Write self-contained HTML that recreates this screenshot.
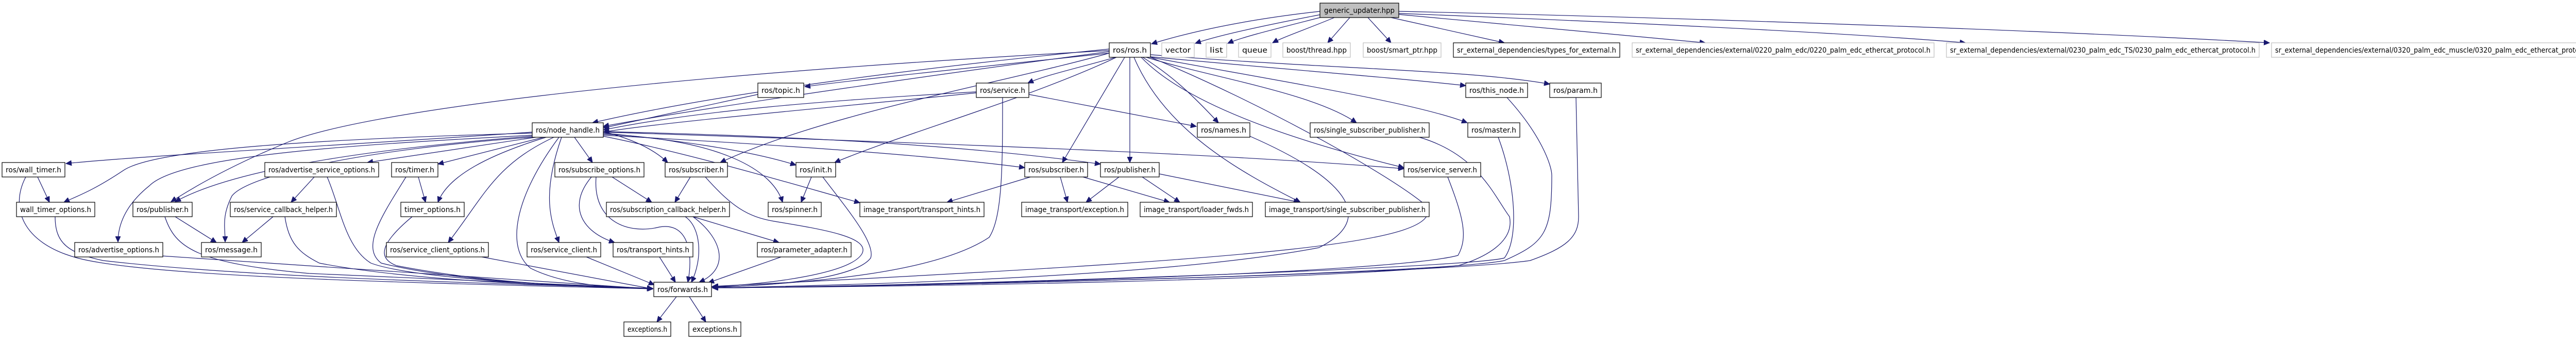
<!DOCTYPE html>
<html><head><meta charset="utf-8"><style>
html,body{margin:0;padding:0;background:#fff;}
svg{display:block;}
text{font-family:"DejaVu Sans","Liberation Sans",sans-serif;font-size:14px;fill:#000;}
.e{fill:none;stroke:#191970;stroke-width:1.2;}
.n{fill:#fff;stroke:#000;stroke-width:1.2;}
.g{fill:#fff;stroke:#bfbfbf;stroke-width:1.2;}
</style></head><body>
<svg width="5059" height="659" viewBox="0 0 5059 659" xmlns="http://www.w3.org/2000/svg">
<defs><marker id="a" markerUnits="userSpaceOnUse" markerWidth="12" markerHeight="10" refX="11" refY="5" orient="auto"><path d="M0,0 L11,5 L0,10 z" fill="#191970" stroke="#191970"/></marker></defs>
<g marker-end="url(#a)">
<path class="e" d="M2562,22 C2400,40 2300,65 2235,85"/>
<path class="e" d="M2565,28 C2450,50 2360,70 2320,84"/>
<path class="e" d="M2570,32 C2480,55 2410,72 2383,84"/>
<path class="e" d="M2590,34 C2540,55 2490,72 2470,83"/>
<path class="e" d="M2620,34 L2577,83"/>
<path class="e" d="M2655,34 L2700,83"/>
<path class="e" d="M2700,34 L2920,83"/>
<path class="e" d="M2715,28 L3310,83"/>
<path class="e" d="M2715,26 C3200,45 3600,65 3815,83"/>
<path class="e" d="M2715,22 C3300,35 4000,60 4405,83"/>
<path class="e" d="M2153,95 C1800,130 1400,180 1150,238"/>
<path class="e" d="M2153,100 C1700,160 1300,220 1171,245"/>
<path class="e" d="M2153,103 C1900,130 1700,150 1562,168"/>
<path class="e" d="M2165,111 C2100,130 2030,145 1995,161"/>
<path class="e" d="M2218,111 C2280,150 2320,190 2365,238"/>
<path class="e" d="M2153,103 C1950,160 1600,220 1398,315"/>
<path class="e" d="M2167,111 C2000,190 1750,260 1620,315"/>
<path class="e" d="M2183,111 L2062,315"/>
<path class="e" d="M2193,111 L2193,315"/>
<path class="e" d="M2201,111 C2260,250 2400,330 2524,392"/>
<path class="e" d="M2233,110 C2500,135 2700,150 2845,166"/>
<path class="e" d="M2233,106 C2600,135 2850,135 3008,163"/>
<path class="e" d="M2225,111 C2350,150 2550,180 2633,238"/>
<path class="e" d="M2233,111 C2500,160 2750,200 2848,238"/>
<path class="e" d="M2215,111 C2300,200 2500,270 2725,325"/>
<path class="e" d="M2153,98 C1200,150 700,220 560,275 C450,320 380,360 332,391"/>
<path class="e" d="M2233,111 C2450,200 2700,340 2770,400 C2800,470 2500,500 1383,555"/>
<path class="e" d="M1471,183 C1350,210 1250,230 1171,248"/>
<path class="e" d="M1895,178 C1600,195 1350,215 1171,252"/>
<path class="e" d="M1895,180 C1600,210 1300,235 1171,256"/>
<path class="e" d="M1997,183 L2322,245"/>
<path class="e" d="M1946,189 C1946,320 1946,420 1920,460 C1800,540 1500,550 1383,558"/>
<path class="e" d="M1033,256 C700,280 300,300 128,317"/>
<path class="e" d="M1033,258 C600,270 300,290 240,330 C180,370 150,380 124,392"/>
<path class="e" d="M1033,262 C700,280 350,300 290,360 C240,400 229,440 229,469"/>
<path class="e" d="M1033,264 C700,290 450,330 340,391"/>
<path class="e" d="M1033,266 C700,290 480,340 450,380 C430,420 437,440 437,469"/>
<path class="e" d="M1040,266 L713,315"/>
<path class="e" d="M1055,266 L850,318"/>
<path class="e" d="M1060,266 C950,300 870,340 850,392"/>
<path class="e" d="M1075,266 C960,320 940,380 870,470"/>
<path class="e" d="M1090,266 C1050,380 1070,430 1085,470"/>
<path class="e" d="M1115,266 L1150,315"/>
<path class="e" d="M1085,266 C1000,380 980,480 1030,520 C1100,555 1200,558 1267,560"/>
<path class="e" d="M1171,255 C1230,270 1270,290 1296,315"/>
<path class="e" d="M1171,258 C1300,270 1450,290 1545,320"/>
<path class="e" d="M1171,260 C1400,270 1500,330 1519,392"/>
<path class="e" d="M1171,264 C1350,300 1550,360 1669,393"/>
<path class="e" d="M1171,262 C1500,280 1800,300 1989,325"/>
<path class="e" d="M1171,255 C1600,265 1900,285 2136,318"/>
<path class="e" d="M1171,256 C1900,280 2400,300 2725,327"/>
<path class="e" d="M73,343 L96,392"/>
<path class="e" d="M50,343 C20,400 40,470 150,500 C300,540 900,550 1267,560"/>
<path class="e" d="M107,420 C107,470 130,490 200,505 C500,540 1000,550 1267,559"/>
<path class="e" d="M314,496 L1267,560"/>
<path class="e" d="M340,420 L420,470"/>
<path class="e" d="M320,420 C340,480 380,510 600,530 L1267,559"/>
<path class="e" d="M610,343 L565,392"/>
<path class="e" d="M635,343 C660,400 670,480 720,510 C800,540 1100,555 1267,559"/>
<path class="e" d="M530,420 L470,470"/>
<path class="e" d="M553,420 C560,470 580,490 620,510 C800,545 1100,555 1267,559"/>
<path class="e" d="M812,343 L826,392"/>
<path class="e" d="M788,343 C740,420 700,480 740,510 C900,550 1150,555 1267,559"/>
<path class="e" d="M800,420 C740,470 730,500 770,515 C950,550 1150,557 1267,559"/>
<path class="e" d="M935,498 L1267,560"/>
<path class="e" d="M1138,498 L1270,552"/>
<path class="e" d="M1188,343 L1265,392"/>
<path class="e" d="M1148,343 C1100,400 1130,450 1193,470"/>
<path class="e" d="M1157,343 C1150,430 1220,455 1280,440 C1340,430 1345,500 1335,547"/>
<path class="e" d="M1280,498 L1311,547"/>
<path class="e" d="M1340,343 L1310,392"/>
<path class="e" d="M1369,343 C1420,400 1450,420 1503,429 C1600,445 1690,460 1673,492 C1650,530 1500,550 1381,556"/>
<path class="e" d="M1575,343 L1555,392"/>
<path class="e" d="M1597,343 C1640,400 1700,470 1690,500 C1660,540 1500,555 1383,556"/>
<path class="e" d="M1345,420 L1512,470"/>
<path class="e" d="M1345,420 C1400,460 1420,520 1357,547"/>
<path class="e" d="M1330,420 C1360,440 1365,500 1342,547"/>
<path class="e" d="M1516,498 L1375,548"/>
<path class="e" d="M2000,343 L1838,392"/>
<path class="e" d="M2058,343 L2072,392"/>
<path class="e" d="M2102,343 L2270,392"/>
<path class="e" d="M2172,343 L2108,392"/>
<path class="e" d="M2217,343 L2290,392"/>
<path class="e" d="M2250,337 L2522,392"/>
<path class="e" d="M2426,264 C2600,340 2680,420 2560,480 C2300,530 1800,550 1383,558"/>
<path class="e" d="M2755,266 C2870,300 2900,380 2930,420 C2940,470 2880,500 2830,515 C2500,545 1800,555 1383,558"/>
<path class="e" d="M2908,266 C2940,350 2950,460 2920,500 C2850,520 1800,555 1383,558"/>
<path class="e" d="M2810,343 C2840,420 2850,460 2830,495 C2700,530 1800,555 1383,558"/>
<path class="e" d="M2925,189 C2990,260 3012,320 3012,340 C3012,450 3000,470 2920,505 C2800,530 1800,555 1383,558"/>
<path class="e" d="M3059,189 L3064,420 C3064,460 3040,480 2970,505 C2800,530 1800,555 1383,558"/>
<path class="e" d="M1313,575 L1275,624"/>
<path class="e" d="M1338,575 L1370,624"/>
</g>
<g>
<rect x="2562" y="6" width="153" height="28" fill="#bfbfbf" stroke="#000" stroke-width="1.2"/><text x="2638.5" y="25" text-anchor="middle" textLength="137" lengthAdjust="spacingAndGlyphs">generic_updater.hpp</text>
<rect class="n" x="2153" y="83" width="80" height="28"/><text x="2193" y="102" text-anchor="middle" textLength="66" lengthAdjust="spacingAndGlyphs">ros/ros.h</text>
<rect class="g" x="2255" y="83" width="63" height="28"/><text x="2286.5" y="102" text-anchor="middle" textLength="49" lengthAdjust="spacingAndGlyphs">vector</text>
<rect class="g" x="2341" y="83" width="40" height="28"/><text x="2361" y="102" text-anchor="middle" textLength="26" lengthAdjust="spacingAndGlyphs">list</text>
<rect class="g" x="2404" y="83" width="63" height="28"/><text x="2435.5" y="102" text-anchor="middle" textLength="49" lengthAdjust="spacingAndGlyphs">queue</text>
<rect class="g" x="2490" y="83" width="131" height="28"/><text x="2555.5" y="102" text-anchor="middle" textLength="117" lengthAdjust="spacingAndGlyphs">boost/thread.hpp</text>
<rect class="g" x="2646" y="83" width="151" height="28"/><text x="2721.5" y="102" text-anchor="middle" textLength="137" lengthAdjust="spacingAndGlyphs">boost/smart_ptr.hpp</text>
<rect class="n" x="2821" y="83" width="323" height="28"/><text x="2982.5" y="102" text-anchor="middle" textLength="309" lengthAdjust="spacingAndGlyphs">sr_external_dependencies/types_for_external.h</text>
<rect class="g" x="3168" y="83" width="586" height="28"/><text x="3461" y="102" text-anchor="middle" textLength="572" lengthAdjust="spacingAndGlyphs">sr_external_dependencies/external/0220_palm_edc/0220_palm_edc_ethercat_protocol.h</text>
<rect class="g" x="3778" y="83" width="607" height="28"/><text x="4081.5" y="102" text-anchor="middle" textLength="593" lengthAdjust="spacingAndGlyphs">sr_external_dependencies/external/0230_palm_edc_TS/0230_palm_edc_ethercat_protocol.h</text>
<rect class="g" x="4409" y="83" width="635" height="28"/><text x="4726.5" y="102" text-anchor="middle" textLength="621" lengthAdjust="spacingAndGlyphs">sr_external_dependencies/external/0320_palm_edc_muscle/0320_palm_edc_ethercat_protocol.h</text>
<rect class="n" x="1471" y="161" width="89" height="28"/><text x="1515.5" y="180" text-anchor="middle" textLength="75" lengthAdjust="spacingAndGlyphs">ros/topic.h</text>
<rect class="n" x="1895" y="161" width="102" height="28"/><text x="1946" y="180" text-anchor="middle" textLength="88" lengthAdjust="spacingAndGlyphs">ros/service.h</text>
<rect class="n" x="2845" y="161" width="120" height="28"/><text x="2905" y="180" text-anchor="middle" textLength="106" lengthAdjust="spacingAndGlyphs">ros/this_node.h</text>
<rect class="n" x="3008" y="161" width="100" height="28"/><text x="3058" y="180" text-anchor="middle" textLength="86" lengthAdjust="spacingAndGlyphs">ros/param.h</text>
<rect class="n" x="1033" y="238" width="138" height="28"/><text x="1102" y="257" text-anchor="middle" textLength="124" lengthAdjust="spacingAndGlyphs">ros/node_handle.h</text>
<rect class="n" x="2324" y="238" width="102" height="28"/><text x="2375" y="257" text-anchor="middle" textLength="88" lengthAdjust="spacingAndGlyphs">ros/names.h</text>
<rect class="n" x="2543" y="238" width="231" height="28"/><text x="2658.5" y="257" text-anchor="middle" textLength="217" lengthAdjust="spacingAndGlyphs">ros/single_subscriber_publisher.h</text>
<rect class="n" x="2849" y="238" width="101" height="28"/><text x="2899.5" y="257" text-anchor="middle" textLength="87" lengthAdjust="spacingAndGlyphs">ros/master.h</text>
<rect class="n" x="4" y="315" width="122" height="28"/><text x="65" y="334" text-anchor="middle" textLength="108" lengthAdjust="spacingAndGlyphs">ros/wall_timer.h</text>
<rect class="n" x="514" y="315" width="221" height="28"/><text x="624.5" y="334" text-anchor="middle" textLength="207" lengthAdjust="spacingAndGlyphs">ros/advertise_service_options.h</text>
<rect class="n" x="760" y="315" width="90" height="28"/><text x="805" y="334" text-anchor="middle" textLength="76" lengthAdjust="spacingAndGlyphs">ros/timer.h</text>
<rect class="n" x="1077" y="315" width="173" height="28"/><text x="1163.5" y="334" text-anchor="middle" textLength="159" lengthAdjust="spacingAndGlyphs">ros/subscribe_options.h</text>
<rect class="n" x="1291" y="315" width="121" height="28"/><text x="1351.5" y="334" text-anchor="middle" textLength="107" lengthAdjust="spacingAndGlyphs">ros/subscriber.h</text>
<rect class="n" x="1545" y="315" width="77" height="28"/><text x="1583.5" y="334" text-anchor="middle" textLength="63" lengthAdjust="spacingAndGlyphs">ros/init.h</text>
<rect class="n" x="1989" y="315" width="122" height="28"/><text x="2050" y="334" text-anchor="middle" textLength="108" lengthAdjust="spacingAndGlyphs">ros/subscriber.h</text>
<rect class="n" x="2136" y="315" width="114" height="28"/><text x="2193" y="334" text-anchor="middle" textLength="100" lengthAdjust="spacingAndGlyphs">ros/publisher.h</text>
<rect class="n" x="2725" y="315" width="149" height="28"/><text x="2799.5" y="334" text-anchor="middle" textLength="135" lengthAdjust="spacingAndGlyphs">ros/service_server.h</text>
<rect class="n" x="32" y="392" width="152" height="28"/><text x="108" y="411" text-anchor="middle" textLength="138" lengthAdjust="spacingAndGlyphs">wall_timer_options.h</text>
<rect class="n" x="258" y="392" width="115" height="28"/><text x="315.5" y="411" text-anchor="middle" textLength="101" lengthAdjust="spacingAndGlyphs">ros/publisher.h</text>
<rect class="n" x="447" y="392" width="206" height="28"/><text x="550" y="411" text-anchor="middle" textLength="192" lengthAdjust="spacingAndGlyphs">ros/service_callback_helper.h</text>
<rect class="n" x="778" y="392" width="123" height="28"/><text x="839.5" y="411" text-anchor="middle" textLength="109" lengthAdjust="spacingAndGlyphs">timer_options.h</text>
<rect class="n" x="1177" y="392" width="239" height="28"/><text x="1296.5" y="411" text-anchor="middle" textLength="225" lengthAdjust="spacingAndGlyphs">ros/subscription_callback_helper.h</text>
<rect class="n" x="1491" y="392" width="103" height="28"/><text x="1542.5" y="411" text-anchor="middle" textLength="89" lengthAdjust="spacingAndGlyphs">ros/spinner.h</text>
<rect class="n" x="1669" y="392" width="241" height="28"/><text x="1789.5" y="411" text-anchor="middle" textLength="227" lengthAdjust="spacingAndGlyphs">image_transport/transport_hints.h</text>
<rect class="n" x="1983" y="392" width="206" height="28"/><text x="2086" y="411" text-anchor="middle" textLength="192" lengthAdjust="spacingAndGlyphs">image_transport/exception.h</text>
<rect class="n" x="2213" y="392" width="218" height="28"/><text x="2322" y="411" text-anchor="middle" textLength="204" lengthAdjust="spacingAndGlyphs">image_transport/loader_fwds.h</text>
<rect class="n" x="2456" y="392" width="318" height="28"/><text x="2615" y="411" text-anchor="middle" textLength="304" lengthAdjust="spacingAndGlyphs">image_transport/single_subscriber_publisher.h</text>
<rect class="n" x="145" y="470" width="171" height="28"/><text x="230.5" y="489" text-anchor="middle" textLength="157" lengthAdjust="spacingAndGlyphs">ros/advertise_options.h</text>
<rect class="n" x="391" y="470" width="116" height="28"/><text x="449" y="489" text-anchor="middle" textLength="102" lengthAdjust="spacingAndGlyphs">ros/message.h</text>
<rect class="n" x="750" y="470" width="198" height="28"/><text x="849" y="489" text-anchor="middle" textLength="184" lengthAdjust="spacingAndGlyphs">ros/service_client_options.h</text>
<rect class="n" x="1023" y="470" width="143" height="28"/><text x="1094.5" y="489" text-anchor="middle" textLength="129" lengthAdjust="spacingAndGlyphs">ros/service_client.h</text>
<rect class="n" x="1190" y="470" width="155" height="28"/><text x="1267.5" y="489" text-anchor="middle" textLength="141" lengthAdjust="spacingAndGlyphs">ros/transport_hints.h</text>
<rect class="n" x="1470" y="470" width="182" height="28"/><text x="1561" y="489" text-anchor="middle" textLength="168" lengthAdjust="spacingAndGlyphs">ros/parameter_adapter.h</text>
<rect class="n" x="1269" y="547" width="112" height="28"/><text x="1325" y="566" text-anchor="middle" textLength="98" lengthAdjust="spacingAndGlyphs">ros/forwards.h</text>
<rect class="n" x="1211" y="624" width="91" height="28"/><text x="1256.5" y="643" text-anchor="middle" textLength="77" lengthAdjust="spacingAndGlyphs">exceptions.h</text>
<rect class="n" x="1337" y="624" width="101" height="28"/><text x="1387.5" y="643" text-anchor="middle" textLength="87" lengthAdjust="spacingAndGlyphs">exceptions.h</text>
</g>
</svg>
</body></html>
